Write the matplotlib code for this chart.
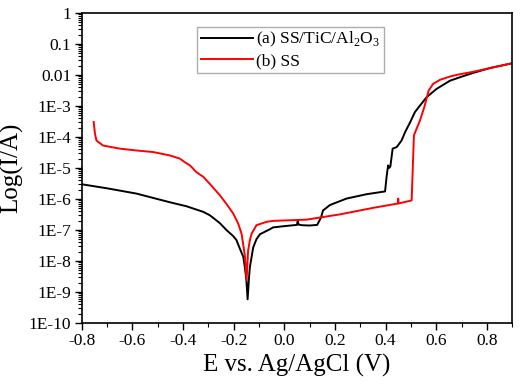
import numpy as np
import matplotlib
matplotlib.use("Agg")
import matplotlib.pyplot as plt
from matplotlib.ticker import FixedLocator, FixedFormatter, LogLocator, NullFormatter, MultipleLocator

plt.rcParams['font.family'] = ['Liberation Serif', 'DejaVu Serif']
plt.rcParams['mathtext.fontset'] = 'custom'
plt.rcParams['mathtext.rm'] = 'Liberation Serif'
plt.rcParams['axes.unicode_minus'] = False

# (a) SS/TiC/Al2O3 : potential (V) and log10(current / A)
e_a = [-0.8, -0.7, -0.584, -0.518, -0.452, -0.386, -0.32, -0.294, -0.255, -0.228,
       -0.202, -0.189, -0.176, -0.162, -0.156, -0.150, -0.145, -0.140, -0.136, -0.123,
       -0.11, -0.096, -0.057, -0.044, 0.0, 0.05, 0.053, 0.056, 0.07, 0.10,
       0.13, 0.145, 0.153, 0.16, 0.18, 0.246, 0.325, 0.398, 0.404, 0.41,
       0.415, 0.419, 0.428, 0.444, 0.463, 0.477, 0.497, 0.516, 0.536, 0.562,
       0.602, 0.654, 0.70, 0.745, 0.813, 0.898]
logi_a = [-5.53, -5.66, -5.83, -5.97, -6.11, -6.24, -6.42, -6.53, -6.78, -7.01,
          -7.2, -7.33, -7.6, -7.87, -8.2, -8.6, -9.24, -8.6, -8.2, -7.57,
          -7.3, -7.14, -6.98, -6.92, -6.88, -6.84, -6.69, -6.83, -6.85, -6.86,
          -6.84, -6.6, -6.37, -6.33, -6.2, -5.99, -5.85, -5.76, -5.29, -4.92,
          -5.0, -4.95, -4.38, -4.33, -4.12, -3.85, -3.53, -3.2, -2.99, -2.72,
          -2.45, -2.19, -2.06, -1.94, -1.78, -1.63]

# (b) SS
e_b = [-0.753, -0.748, -0.742, -0.716, -0.65, -0.584, -0.518, -0.452, -0.413, -0.393,
       -0.373, -0.347, -0.32, -0.294, -0.255, -0.228, -0.202, -0.182, -0.169, -0.16,
       -0.155, -0.149, -0.143, -0.136, -0.129, -0.11, -0.07, -0.044, 0.088, 0.22,
       0.351, 0.449, 0.450, 0.451, 0.503, 0.512, 0.536, 0.553, 0.57, 0.588,
       0.615, 0.652, 0.681, 0.747, 0.813, 0.898]
logi_b = [-3.52, -3.9, -4.12, -4.28, -4.38, -4.44, -4.49, -4.6, -4.70, -4.82,
          -4.92, -5.14, -5.29, -5.52, -5.88, -6.17, -6.47, -6.8, -7.12, -7.6,
          -7.9, -8.62, -7.67, -7.33, -7.12, -6.85, -6.74, -6.71, -6.67, -6.5,
          -6.29, -6.15, -5.99, -6.15, -6.05, -3.95, -3.47, -3.04, -2.51, -2.29,
          -2.16, -2.06, -2.0, -1.9, -1.78, -1.63]

labels = ["(a) SS/TiC/Al$_2$O$_3$", "(b) SS"]
y_ticks = [1e-10, 1e-9, 1e-8, 1e-7, 1e-6, 1e-5, 1e-4, 1e-3, 1e-2, 1e-1, 1]
y_ticklabels = ["1E-10", "1E-9", "1E-8", "1E-7", "1E-6", "1E-5", "1E-4", "1E-3", "0.01", "0.1", "1"]
x_ticks = [-0.8, -0.6, -0.4, -0.2, 0.0, 0.2, 0.4, 0.6, 0.8]

fig = plt.figure(figsize=(5.21, 3.89), dpi=100)
ax = fig.add_axes([0.157, 0.170, 0.826, 0.797])

ax.plot(e_a, 10 ** np.array(logi_a), color='black', lw=1.4, label=labels[0])
ax.plot(e_b, 10 ** np.array(logi_b), color='red', lw=1.4, label=labels[1])

ax.set_yscale('log')
ax.set_xlim(-0.8, 0.9)
ax.set_ylim(1e-10, 1)
ax.yaxis.set_major_locator(FixedLocator(y_ticks))
ax.yaxis.set_major_formatter(FixedFormatter(y_ticklabels))
ax.yaxis.set_minor_locator(LogLocator(base=10, subs=np.arange(2, 10), numticks=20))
ax.yaxis.set_minor_formatter(NullFormatter())
ax.set_xticks(x_ticks)
ax.set_xticklabels([f"{v:.1f}" for v in x_ticks])
ax.xaxis.set_minor_locator(MultipleLocator(0.1))

ax.tick_params(which='major', direction='out', length=5, width=1.0, labelsize=12.5,
               top=False, right=False, pad=2.5)
ax.tick_params(which='minor', direction='out', length=3, width=0.8, top=False, right=False)
for s in ax.spines.values():
    s.set_linewidth(1.2)

ax.set_xlabel("E vs. Ag/AgCl (V)", fontsize=18, labelpad=3)
ax.set_ylabel("Log(I/A)", fontsize=18, labelpad=4)

leg = ax.legend(loc='upper left', bbox_to_anchor=(0.268, 0.955), fontsize=12.5,
                frameon=True, fancybox=False, edgecolor='#999999', handlelength=3.0,
                handletextpad=0.2, borderpad=0.2, labelspacing=0.2, borderaxespad=0)
leg.get_frame().set_linewidth(1.0)

fig.savefig("out.png", dpi=100)
